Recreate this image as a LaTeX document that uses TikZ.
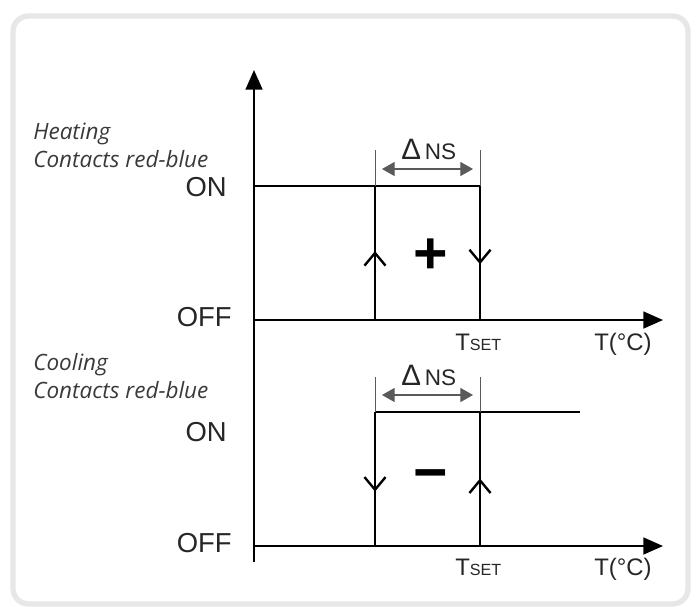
\documentclass[tikz,border=0pt]{standalone}
\usepackage{fontspec}
\setmainfont{Liberation Sans}
\newfontfamily\notefont{Open Sans}
\usetikzlibrary{arrows.meta,positioning,decorations.markings}
\definecolor{framegray}{HTML}{E6E7E8}
\definecolor{notegray}{HTML}{3A3A3A}
\definecolor{dimgray}{HTML}{5A5A5A}
\tikzset{
  frm/.style={draw=framegray, line width=3.8pt, rounded corners=11pt},
  axis/.style={line width=1.5pt, -{Triangle[length=14pt,width=12pt]}},
  sig/.style={line width=1.3pt},
  dimtick/.style={line width=0.6pt, draw=dimgray},
  dimarr/.style={line width=0.8pt, draw=dimgray, {Triangle[length=9pt,width=10pt]}-{Triangle[length=9pt,width=10pt]}},
  markat/.style={postaction={decorate}, decoration={markings,
    mark=at position #1 with {\draw[line width=1.7pt, line join=miter] (-9pt,-7.5pt) -- (0pt,0pt) -- (-9pt,7.5pt);}}},
  lvl/.style={font=\fontsize{19.5}{22}\selectfont, text=black!85, anchor=east, inner sep=0pt},
  note/.style={font=\notefont\itshape\fontsize{16}{18}\selectfont, text=notegray, anchor=base west, inner sep=0pt},
  tlbl/.style={font=\fontsize{17}{20}\selectfont, text=black!85, anchor=base west, inner sep=0pt},
  sgn/.style={font=\bfseries\fontsize{42}{46}\selectfont, inner sep=0pt},
}
\newcommand{\tset}{T{\fontsize{11.5}{14}\selectfont SET}}
\newcommand{\dns}{{\fontsize{21}{24}\selectfont Δ}\,{\fontsize{16}{18}\selectfont NS}}

\begin{document}
\begin{tikzpicture}[x=0.025cm, y=-0.025cm]
\useasboundingbox (0,0) rectangle (696,606);
\draw[frm] (13,16) rectangle (688,604);

% axes
\coordinate (ybot) at (254,562);
\coordinate (ytop) at (254,70);
\coordinate (h0) at (254,320);
\coordinate (hend) at (663,320);
\coordinate (c0) at (254,546);
\coordinate (cend) at (663,546);
\draw[axis] (ybot) -- (ytop);
\draw[axis] (h0) -- (hend);
\draw[axis] (c0) -- (cend);

% heating
\coordinate (hon) at (254,186);
\coordinate (hlo) at (375,320);
\coordinate (hlt) at (375,186);
\coordinate (hro) at (480,320);
\coordinate (hrt) at (480,186);
\draw[sig] (hon) -- (hrt);
\draw[line width=1.7pt] (273,186) -- (355,186);
\draw[sig, markat=0.5] (hlo) -- (hlt);
\draw[sig, markat=0.57] (hrt) -- (hro);
\draw[dimtick] (375,150) -- (hlt);
\draw[dimtick] (480,150) -- (hrt);
\coordinate (hda) at (382,169);
\coordinate (hdb) at (473,169);
\draw[dimarr] (hda) -- (hdb);

% cooling
\coordinate (clt) at (375,412);
\coordinate (clo) at (375,546);
\coordinate (crt) at (480,412);
\coordinate (cro) at (480,546);
\coordinate (cend2) at (580,412);
\draw[sig] (clt) -- (cend2);
\draw[sig, markat=0.58] (clt) -- (clo);
\draw[sig, markat=0.49] (cro) -- (crt);
\draw[dimtick] (375,377) -- (clt);
\draw[dimtick] (480,377) -- (crt);
\coordinate (cda) at (382,395);
\coordinate (cdb) at (473,395);
\draw[dimarr] (cda) -- (cdb);

% labels
\node[note] (heat) at (33,139) {Heating};
\node[note] (heatc) at (33,167) {Contacts red-blue};
\node[note] (cool) at (33,370) {Cooling};
\node[note] (coolc) at (33,398) {Contacts red-blue};

\node[lvl] (hon1) at (227,187) {ON};
\node[lvl] (hoff) at (232,317) {OFF};
\node[lvl] (con1) at (227,432) {ON};
\node[lvl] (coff) at (232,543) {OFF};

\node[tlbl] (hdns) at (401,159) {\dns};
\node[tlbl] (cdns) at (401,385) {\dns};
\node[tlbl] (hts) at (455,350) {\tset};
\node[tlbl] (cts) at (455,575) {\tset};
\node[tlbl] (htc) at (594,350) {T(°C)};
\node[tlbl] (ctc) at (594,575) {T(°C)};

\node[sgn] (plus) at (431,256) {+};
\node[sgn] (minus) at (431,481) {−};
\end{tikzpicture}
\end{document}
